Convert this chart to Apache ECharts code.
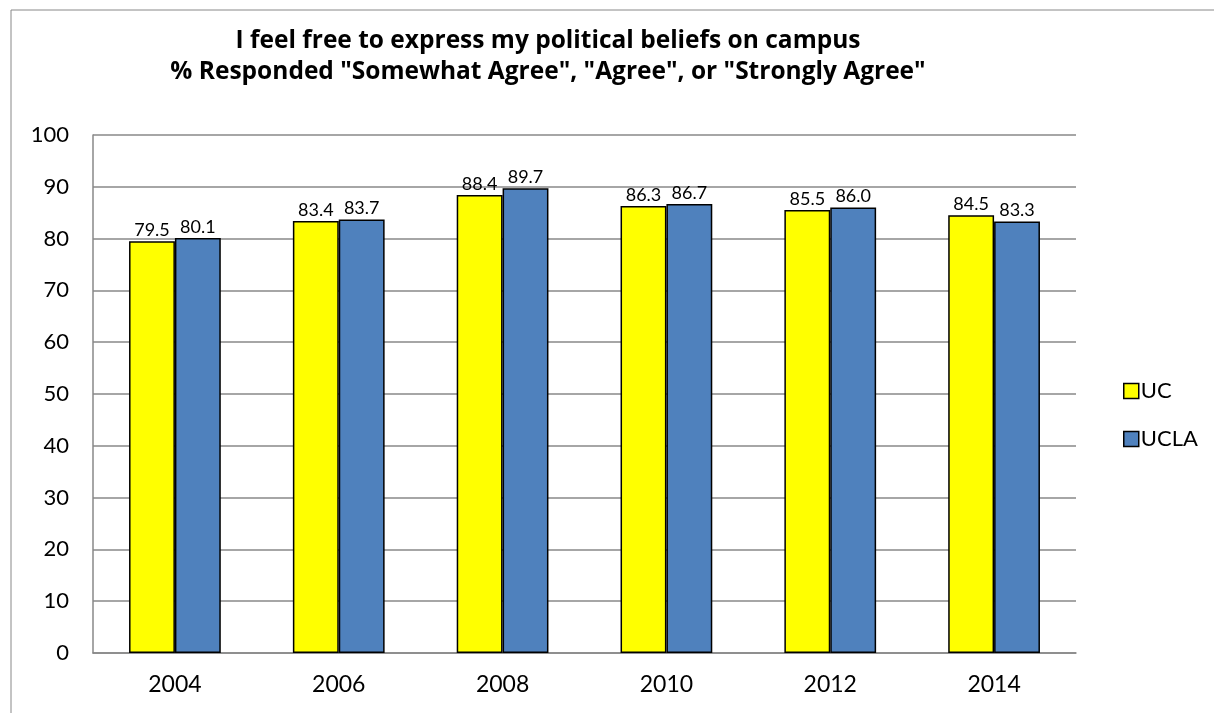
<!DOCTYPE html>
<html><head><meta charset="utf-8">
<script src="https://cdn.jsdelivr.net/npm/echarts@6/dist/echarts.min.js"></script>
<style>html,body{margin:0;padding:0;background:#fff}#c{width:1214px;height:713px}</style>
</head><body><div id="c"></div>
<script>
const categories = ['2004','2006','2008','2010','2012','2014'];
const ucValues = [79.5, 83.4, 88.4, 86.3, 85.5, 84.5];
const uclaValues = [80.1, 83.7, 89.7, 86.7, 86.0, 83.3];
const titleLines = ['I feel free to express my political beliefs on campus', '% Responded "Somewhat Agree", "Agree", or "Strongly Agree"'];
const font = 'Lato, "Open Sans", sans-serif';
const chart = echarts.init(document.getElementById('c'));
const lbl = {show:true, position:'top', distance:2, color:'#000', fontSize:18, fontFamily:font, formatter:p=>p.value.toFixed(1)};
chart.setOption({
  animation:false,
  graphic:[{type:'rect', shape:{x:11,y:10,width:1300,height:800}, style:{fill:'none', stroke:'#888', lineWidth:1}, silent:true, z:-1}],
  title:{text:titleLines.join('\n'), left:543, top:20, textAlign:'center',
    textStyle:{fontSize:24.5, fontWeight:'bold', fontFamily:'"Open Sans", sans-serif', color:'#000', lineHeight:31.5}},
  legend:{orient:'vertical', left:1118, top:375, itemGap:26, itemWidth:15, itemHeight:15,
    icon:'rect', textStyle:{fontSize:22, fontFamily:font, color:'#000', padding:[0,0,0,-3]},
    itemStyle:{borderColor:'#000', borderWidth:1.5},
    data:['UC','UCLA']},
  grid:{left:93, right:138, top:135, bottom:60},
  xAxis:{type:'category', data:categories,
    axisLine:{lineStyle:{color:'#888', width:1.5}}, axisTick:{show:false},
    axisLabel:{fontSize:23, fontFamily:font, color:'#000', margin:20}},
  yAxis:{type:'value', min:0, max:100, interval:10,
    axisLine:{show:true, lineStyle:{color:'#888', width:1.5}},
    axisTick:{show:false},
    splitLine:{lineStyle:{color:'#888', width:1.5}},
    axisLabel:{fontSize:22, fontFamily:font, color:'#000', margin:24}},
  series:[
    {name:'UC', type:'bar', data:ucValues, barGap:'0%', barCategoryGap:'44%',
      itemStyle:{color:'#ffff00', borderColor:'#000', borderWidth:1.5}, label:lbl},
    {name:'UCLA', type:'bar', data:uclaValues,
      itemStyle:{color:'#4f81bd', borderColor:'#000', borderWidth:1.5}, label:lbl}
  ]
});
</script></body></html>
